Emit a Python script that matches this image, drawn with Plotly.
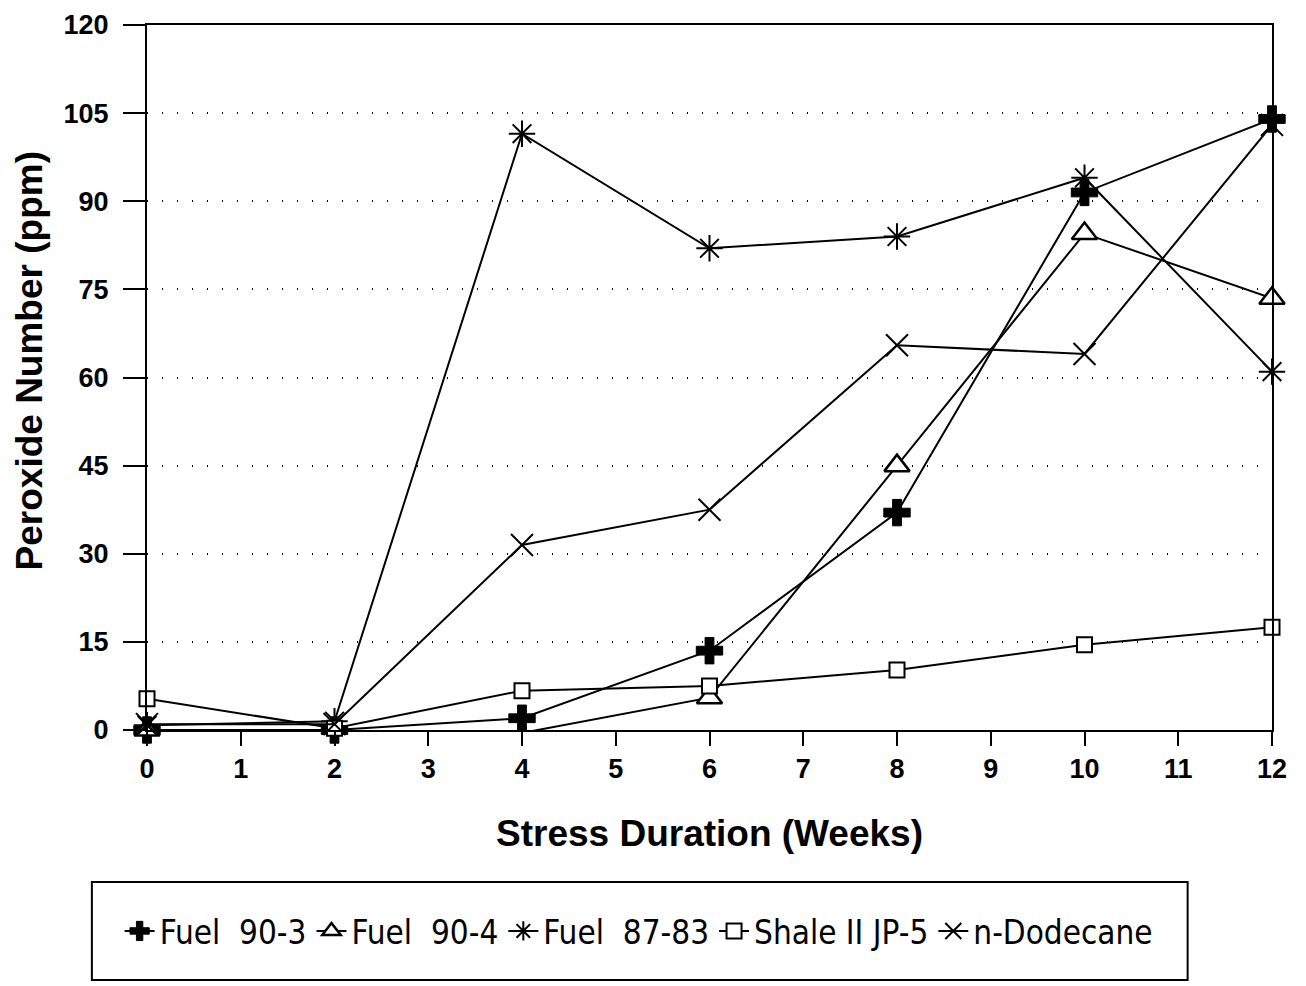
import plotly.graph_objects as go

weeks = [0, 2, 4, 6, 8, 10, 12]
fuel_90_3 = [0.0, 0.0, 2.0, 13.5, 37.0, 91.5, 104.0]
fuel_90_4 = [0.0, -0.5, -0.5, 5.5, 45.0, 84.5, 73.5]
fuel_87_83 = [0.8, 1.5, 101.5, 82.0, 84.0, 94.0, 61.0]
shale_jp5 = [5.3, 0.3, 6.7, 7.5, 10.2, 14.5, 17.5]
n_dodecane = [1.0, 1.0, 31.5, 37.5, 65.5, 64.0, 103.0]

series_names = ["Fuel\u00a0\u00a090-3", "Fuel\u00a0\u00a090-4", "Fuel\u00a0\u00a087-83",
                "Shale II JP-5", "n-Dodecane"]
y_ticks = [0, 15, 30, 45, 60, 75, 90, 105, 120]
x_ticks = list(range(0, 13))

fig = go.Figure()

styles = [
    (fuel_90_3, dict(symbol="cross", size=22, color="black", line=dict(color="black", width=1))),
    (fuel_90_4, dict(symbol="triangle-up", size=22, color="white", line=dict(color="black", width=2.5))),
    (fuel_87_83, dict(symbol="asterisk-open", size=22, color="black", line=dict(color="black", width=2))),
    (shale_jp5, dict(symbol="square", size=15, color="white", line=dict(color="black", width=2))),
    (n_dodecane, dict(symbol="x-thin-open", size=22, color="black", line=dict(color="black", width=2))),
]

for name, (vals, mk) in zip(series_names, styles):
    fig.add_trace(go.Scatter(
        x=weeks, y=vals, name=name, mode="lines+markers",
        line=dict(color="black", width=2), marker=mk, cliponaxis=False,
    ))

title_font = dict(family="Liberation Sans, Arial, sans-serif", size=37, color="black")
tick_font = dict(family="Liberation Sans, Arial, sans-serif", size=27, color="black", weight="bold")

fig.update_layout(
    width=1298, height=978,
    margin=dict(l=139, r=34, t=17, b=256, autoexpand=False),
    paper_bgcolor="white", plot_bgcolor="white",
    showlegend=True,
    legend=dict(
        orientation="h", x=0.437, xanchor="center", y=-0.2851, yanchor="middle",
        font=dict(family="Liberation Sans Narrow, DejaVu Sans Condensed, Arial Narrow, sans-serif",
                  size=33, color="black"),
        bgcolor="rgba(0,0,0,0)", borderwidth=0, itemwidth=30,
    ),
    xaxis=dict(
        range=[0, 12], tickvals=x_ticks, ticktext=[str(t) for t in x_ticks],
        ticks="outside", ticklen=14, tickwidth=2, tickcolor="black",
        showline=True, linecolor="black", linewidth=2, mirror=True,
        showgrid=False, zeroline=False, automargin=False,
        tickfont=tick_font, ticklabeloverflow="allow",
        title=dict(text="<b>Stress Duration (Weeks)</b>", standoff=37, font=title_font),
    ),
    yaxis=dict(
        range=[0, 120], tickvals=y_ticks, ticktext=[str(t) for t in y_ticks],
        ticks="outside", ticklen=22, tickwidth=2, tickcolor="black",
        showline=True, linecolor="black", linewidth=2, mirror=True,
        showgrid=True, gridcolor="black", gridwidth=1.5, griddash="1px,14px",
        zeroline=False, automargin=False, ticklabelstandoff=9,
        tickfont=tick_font, ticklabeloverflow="allow",
    ),
    annotations=[dict(
        text="<b>Peroxide Number (ppm)</b>", xref="paper", yref="paper",
        x=-0.1045, y=0.5234, xanchor="center", yanchor="middle", textangle=-90,
        showarrow=False, font=title_font,
    )],
    shapes=[dict(
        type="rect", xref="paper", yref="paper",
        x0=-0.049, x1=0.925, y0=-0.3546, y1=-0.2156,
        line=dict(color="black", width=2), fillcolor="rgba(0,0,0,0)",
    )],
)

fig.write_html("out.html")
